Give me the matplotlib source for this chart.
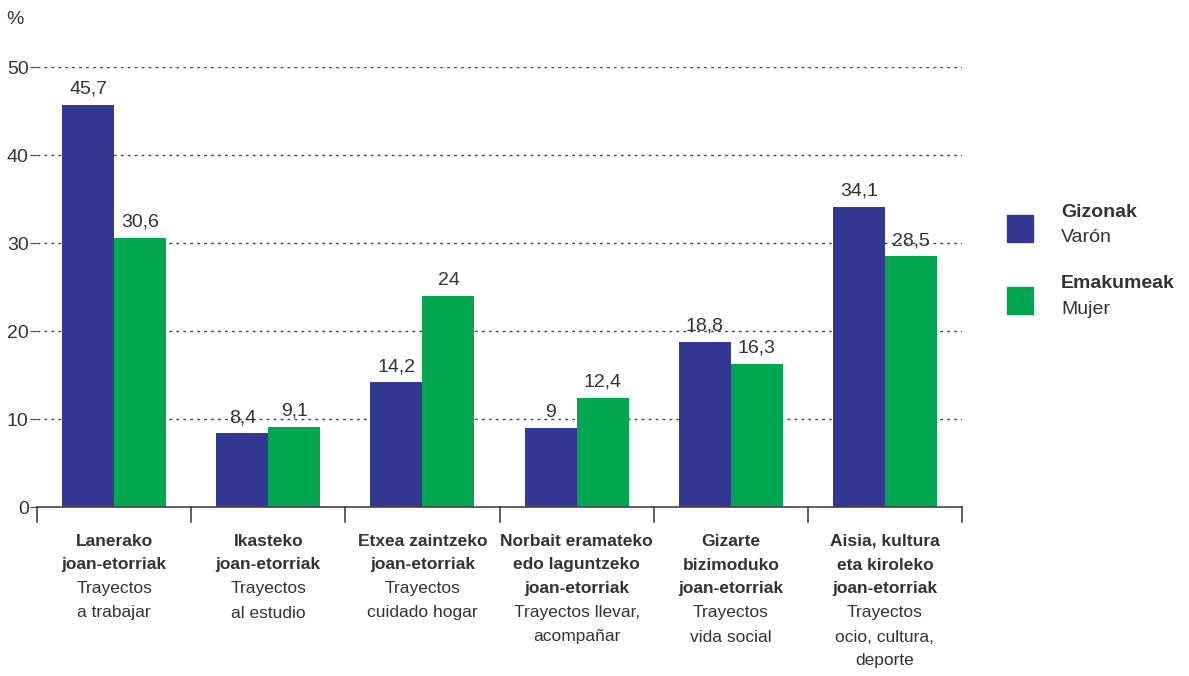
import numpy as np
import matplotlib
matplotlib.use('Agg')
import matplotlib.pyplot as plt
from matplotlib.patches import Rectangle

plt.rcParams['font.family'] = ['Liberation Sans', 'DejaVu Sans']

# --- DATA ---
cat_eu = ['Lanerako\njoan-etorriak', 'Ikasteko\njoan-etorriak', 'Etxea zaintzeko\njoan-etorriak',
          'Norbait eramateko\nedo laguntzeko\njoan-etorriak', 'Gizarte\nbizimoduko\njoan-etorriak',
          'Aisia, kultura\neta kiroleko\njoan-etorriak']
cat_es = ['Trayectos\na trabajar', 'Trayectos\nal estudio', 'Trayectos\ncuidado hogar',
          'Trayectos llevar,\nacompañar', 'Trayectos\nvida social', 'Trayectos\nocio, cultura,\ndeporte']
men = [45.7, 8.4, 14.2, 9, 18.8, 34.1]
women = [30.6, 9.1, 24, 12.4, 16.3, 28.5]
men_lbl = ['45,7', '8,4', '14,2', '9', '18,8', '34,1']
women_lbl = ['30,6', '9,1', '24', '12,4', '16,3', '28,5']

BLUE = '#333893'
GREEN = '#00a650'
GREY = '#333333'

fig = plt.figure(figsize=(11.89, 6.76), dpi=100)
ax = fig.add_axes([37/1189, 169/676, (962-37)/1189, 440/676])

n = len(men)
x = np.arange(n) + 0.5
w = 52/154
ax.bar(x - w/2, men, w, color=BLUE, zorder=2)
ax.bar(x + w/2, women, w, color=GREEN, zorder=2)

for xi, v, s in zip(x - w/2, men, men_lbl):
    ax.text(xi, v + 0.8, s, ha='center', va='bottom', fontsize=14, color=GREY)
for xi, v, s in zip(x + w/2, women, women_lbl):
    ax.text(xi, v + 0.8, s, ha='center', va='bottom', fontsize=14, color=GREY)

ax.set_xlim(0, n)
ax.set_ylim(0, 50)
ax.set_yticks([0, 10, 20, 30, 40, 50])
for yv in [10, 20, 30, 40, 50]:
    ax.axhline(yv, color='#444444', lw=1, ls=(0, (2, 3)), zorder=1)
ax.tick_params(axis='y', length=5, color='#444444', labelsize=14, labelcolor=GREY, pad=1)
ax.tick_params(axis='x', length=0)
ax.set_xticks([])
for s in ['top', 'right', 'left']:
    ax.spines[s].set_visible(False)
ax.spines['bottom'].set_color('#444444')
ax.spines['bottom'].set_linewidth(1.2)

# category separators below the axis
for b in range(n + 1):
    ax.plot([b, b], [0, -1.7], color='#444444', lw=1.2, clip_on=False)

# category labels, one line at a time (24 px apart)
px = 440 / 50  # pixels per unit
for xi, eu, es in zip(x, cat_eu, cat_es):
    lines = [(t, 'bold') for t in eu.split('\n')] + [(t, 'normal') for t in es.split('\n')]
    for i, (t, fw) in enumerate(lines):
        ypix = 541 + 24 * i
        ax.text(xi, -(ypix - 507) / px, t, ha='center', va='center', fontsize=12.5,
                fontweight=fw, color=GREY, clip_on=False)

fig.text(15/1189, 1 - 20/676, '%', ha='center', va='center', fontsize=14, color=GREY)

# legend
for yy, c, b, r in [(215, BLUE, 'Gizonak', 'Varón'), (287, GREEN, 'Emakumeak', 'Mujer')]:
    fig.patches.append(Rectangle((1007/1189, 1 - (yy + 27)/676), 26/1189, 27/676,
                                 transform=fig.transFigure, color=c))
    fig.text(1061/1189, 1 - (yy - 3)/676, b, ha='left', va='center', fontsize=14,
             fontweight='bold', color=GREY)
    fig.text(1061/1189, 1 - (yy + 23)/676, r, ha='left', va='center', fontsize=14, color=GREY)

fig.savefig('out.png', dpi=100, facecolor='white')
